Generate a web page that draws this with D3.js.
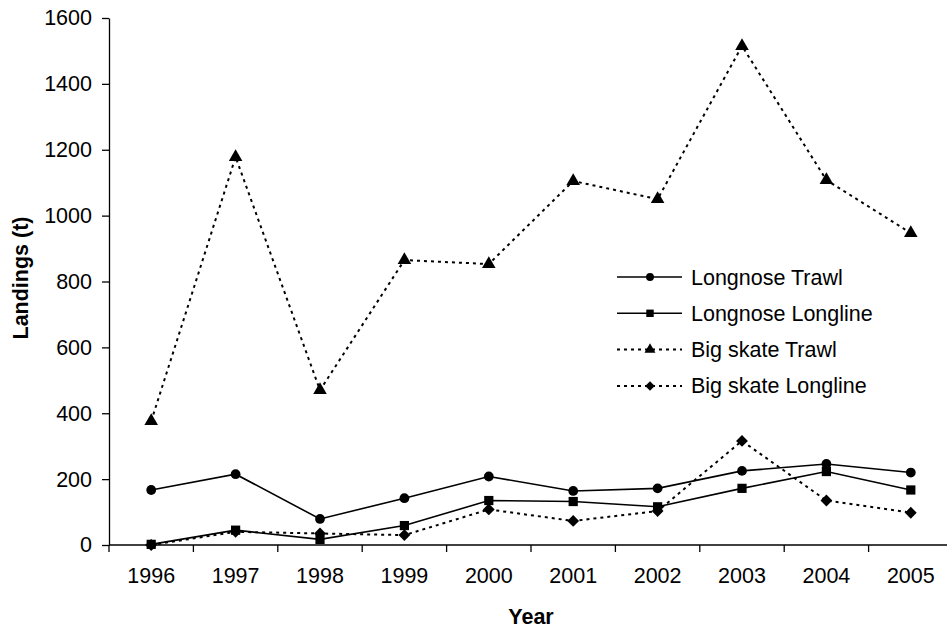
<!DOCTYPE html>
<html>
<head>
<meta charset="utf-8">
<script src="https://cdn.jsdelivr.net/npm/d3@7.9.0/dist/d3.min.js"></script>
<style>
  body { margin: 0; background: #fff; }
  svg { display: block; font-family: "Liberation Sans", Arial, sans-serif; }
</style>
</head>
<body>
<svg width="947" height="629"></svg>
<script>
const years = ['1996','1997','1998','1999','2000','2001','2002','2003','2004','2005'];
const longnoseTrawl = [167, 215, 79, 142, 208, 164, 172, 225, 246, 220];
const longnoseLongline = [2, 45, 17, 59, 135, 132, 116, 172, 223, 167];
const bigSkateTrawl = [376, 1178, 470, 865, 853, 1105, 1050, 1515, 1108, 947];
const bigSkateLongline = [0, 40, 35, 30, 108, 73, 103, 316, 135, 98];
const yTicks = [0, 200, 400, 600, 800, 1000, 1200, 1400, 1600];

// diamond = square turned 45 degrees
const series = [
  { name: 'Longnose Trawl', values: longnoseTrawl, dash: null, symbol: d3.symbolCircle, size: 75, rot: 0 },
  { name: 'Longnose Longline', values: longnoseLongline, dash: null, symbol: d3.symbolSquare, size: 85, rot: 0 },
  { name: 'Big skate Trawl', values: bigSkateTrawl, dash: '3,4', symbol: d3.symbolTriangle, size: 80, rot: 0 },
  { name: 'Big skate Longline', values: bigSkateLongline, dash: '3,4', symbol: d3.symbolSquare, size: 70, rot: 45 }
];

const svg = d3.select('svg');
const plotLeft = 109, plotRight = 953, plotTop = 18, plotBottom = 545;

const x = d3.scaleBand().domain(years).range([plotLeft, plotRight]).padding(0);
const y = d3.scaleLinear().domain([0, 1600]).range([plotBottom, plotTop]);

// y axis
const yAxis = svg.append('g')
  .attr('transform', `translate(${plotLeft},0)`)
  .call(d3.axisLeft(y).tickValues(yTicks).tickFormat(d3.format('d'))
    .tickSize(7).tickPadding(10).tickSizeOuter(0));
yAxis.select('.domain').attr('stroke', '#000').attr('stroke-width', 1.3);
yAxis.selectAll('.tick line').attr('stroke-width', 1.3);
yAxis.selectAll('text').attr('font-size', 21.5).attr('fill', '#000');

// x axis: labels under the bands, ticks on band edges
const xAxis = svg.append('g')
  .attr('transform', `translate(0,${plotBottom})`)
  .call(d3.axisBottom(x).tickSize(0).tickPadding(23));
xAxis.select('.domain').attr('d', `M${plotLeft},0H${plotRight}`).attr('stroke', '#000').attr('stroke-width', 1.3);
xAxis.selectAll('text').attr('font-size', 21.5).attr('fill', '#000');
xAxis.selectAll('line.edge')
  .data(years)
  .join('line')
  .attr('class', 'edge')
  .attr('x1', d => x(d)).attr('x2', d => x(d))
  .attr('y1', 0).attr('y2', 7)
  .attr('stroke', '#000').attr('stroke-width', 1.3);

// titles
svg.append('text')
  .attr('x', 531).attr('y', 624)
  .attr('text-anchor', 'middle')
  .attr('font-size', 21.5).attr('font-weight', 'bold')
  .text('Year');
svg.append('text')
  .attr('transform', 'translate(28,278) rotate(-90)')
  .attr('text-anchor', 'middle')
  .attr('font-size', 21.5).attr('font-weight', 'bold')
  .text('Landings (t)');

const line = d3.line()
  .x((d, i) => x(years[i]) + x.bandwidth() / 2)
  .y(d => y(d));

series.forEach(s => {
  svg.append('path')
    .datum(s.values)
    .attr('d', line)
    .attr('fill', 'none')
    .attr('stroke', '#000')
    .attr('stroke-width', s.dash ? 2 : 1.6)
    .attr('stroke-dasharray', s.dash);
});

series.forEach(s => {
  svg.append('g').selectAll('path')
    .data(s.values)
    .join('path')
    .attr('transform', (d, i) => `translate(${x(years[i]) + x.bandwidth() / 2},${y(d)}) rotate(${s.rot})`)
    .attr('d', d3.symbol().type(s.symbol).size(s.size))
    .attr('fill', '#000');
});

// legend
const legend = svg.append('g').attr('transform', 'translate(617,277)');
series.forEach((s, i) => {
  const g = legend.append('g').attr('transform', `translate(0,${i * 36.3})`);
  g.append('line')
    .attr('x1', 0).attr('x2', 65)
    .attr('stroke', '#000')
    .attr('stroke-width', s.dash ? 2 : 1.6)
    .attr('stroke-dasharray', s.dash);
  g.append('path')
    .attr('transform', `translate(33,0) rotate(${s.rot})`)
    .attr('d', d3.symbol().type(s.symbol).size(s.size * 0.65))
    .attr('fill', '#000');
  g.append('text')
    .attr('x', 74).attr('y', 0)
    .attr('dy', '0.35em')
    .attr('font-size', 21.5)
    .text(s.name);
});
</script>
</body>
</html>
